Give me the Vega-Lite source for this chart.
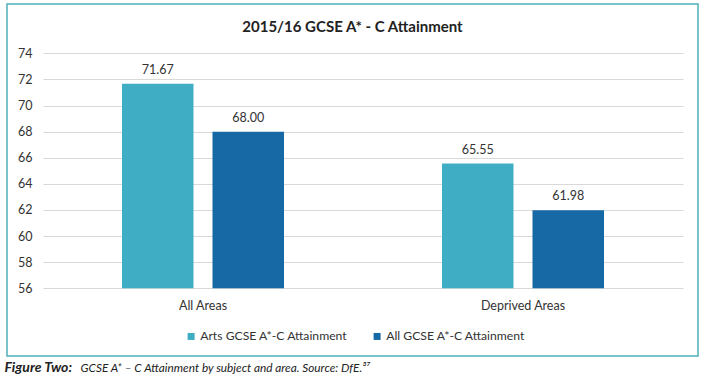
{
  "$schema": "https://vega.github.io/schema/vega-lite/v6.json",
  "width": 691,
  "height": 352,
  "autosize": {"type": "none"},
  "padding": {"left": 7, "top": 4, "right": 7, "bottom": 21},
  "background": "white",
  "title": {
    "text": "2015/16 GCSE A* - C Attainment",
    "anchor": "middle",
    "offset": -43,
    "baseline": "alphabetic",
    "font": "Lato",
    "fontSize": 15,
    "fontWeight": "bold",
    "color": "#222222"
  },
  "data": {
    "values": [
      {"area": "All Areas", "series": "Arts GCSE A*-C Attainment", "value": 71.67},
      {"area": "All Areas", "series": "All GCSE A*-C Attainment", "value": 68.0},
      {"area": "Deprived Areas", "series": "Arts GCSE A*-C Attainment", "value": 65.55},
      {"area": "Deprived Areas", "series": "All GCSE A*-C Attainment", "value": 61.98}
    ]
  },
  "encoding": {
    "x": {
      "field": "area",
      "type": "nominal",
      "sort": ["All Areas", "Deprived Areas"],
      "scale": {"range": [36, 676], "paddingInner": 0.49375, "paddingOuter": 0.246875},
      "axis": {
        "title": "Figure Two:",
        "orient": "bottom",
        "offset": -67.7,
        "domain": false,
        "ticks": false,
        "tickSize": 0,
        "grid": false,
        "labelPadding": 11,
        "labelAngle": 0,
        "labelFont": "Lato",
        "labelFontSize": 12.5,
        "labelColor": "#333333",
        "titleX": -3,
        "titleY": 82.7,
        "titleAlign": "left",
        "titleAnchor": "start",
        "titleBaseline": "alphabetic",
        "titleFont": "Lato",
        "titleFontSize": 14,
        "titleFontStyle": "italic",
        "titleFontWeight": "bold",
        "titleColor": "#222222"
      }
    },
    "xOffset": {
      "field": "series",
      "type": "nominal",
      "sort": ["Arts GCSE A*-C Attainment", "All GCSE A*-C Attainment"],
      "scale": {"paddingInner": 0.21, "paddingOuter": 0}
    },
    "y": {
      "field": "value",
      "type": "quantitative",
      "scale": {"domain": [50.81, 77.78], "nice": false, "zero": false},
      "axis": {
        "title": "GCSE A* – C Attainment by subject and area. Source: DfE.³⁷",
        "values": [56, 58, 60, 62, 64, 66, 68, 70, 72, 74],
        "offset": -36,
        "domain": false,
        "ticks": false,
        "tickSize": 0,
        "grid": true,
        "gridColor": "#D9D9D9",
        "gridWidth": 1,
        "labelPadding": 11,
        "labelFont": "Lato",
        "labelFontSize": 12.5,
        "labelColor": "#333333",
        "titleAngle": 0,
        "titleX": 37,
        "titleY": 367,
        "titleAlign": "left",
        "titleBaseline": "alphabetic",
        "titleFont": "Lato",
        "titleFontSize": 11.8,
        "titleFontStyle": "italic",
        "titleFontWeight": "normal",
        "titleColor": "#222222"
      }
    }
  },
  "layer": [
    {
      "mark": {"type": "bar"},
      "encoding": {
        "y2": {"datum": 56},
        "color": {
          "field": "series",
          "type": "nominal",
          "sort": ["Arts GCSE A*-C Attainment", "All GCSE A*-C Attainment"],
          "scale": {
            "domain": ["Arts GCSE A*-C Attainment", "All GCSE A*-C Attainment"],
            "range": ["#3FAEC4", "#1769A5"]
          },
          "legend": {
            "orient": "none",
            "legendX": 178,
            "legendY": 326,
            "direction": "horizontal",
            "title": null,
            "symbolType": "square",
            "symbolSize": 49,
            "symbolStrokeWidth": 0,
            "labelFont": "Lato",
            "labelFontSize": 12.2,
            "labelColor": "#333333",
            "labelOffset": 3,
            "columnPadding": 23,
            "padding": 0
          }
        }
      }
    },
    {
      "mark": {"type": "text", "dy": -10, "baseline": "alphabetic", "font": "Lato", "fontSize": 12.5, "color": "#333333"},
      "encoding": {
        "text": {"field": "value", "type": "quantitative", "format": ".2f"}
      }
    }
  ],
  "config": {
    "font": "Lato",
    "view": {"stroke": "#4FB0B8", "strokeWidth": 1.5}
  }
}
